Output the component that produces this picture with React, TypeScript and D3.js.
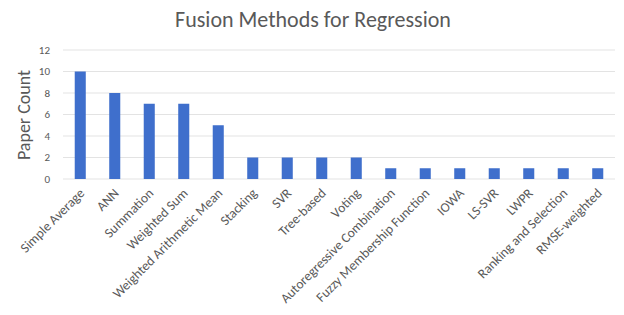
import React, { useRef, useEffect } from 'react';
import { select, scaleBand, scaleLinear } from 'd3';

const width = 624;
const height = 315;

const methods = [
  'Simple Average', 'ANN', 'Summation', 'Weighted Sum', 'Weighted Arithmetic Mean',
  'Stacking', 'SVR', 'Tree-based', 'Voting', 'Autoregressive Combination',
  'Fuzzy Membership Function', 'IOWA', 'LS-SVR', 'LWPR', 'Ranking and Selection', 'RMSE-weighted',
];
const paperCounts = [10, 8, 7, 7, 5, 2, 2, 2, 2, 1, 1, 1, 1, 1, 1, 1];
const yTicks = [0, 2, 4, 6, 8, 10, 12];

const font = "Calibri, Carlito, Lato, sans-serif";
const textColor = '#595959';

export default function App() {
  const svgRef = useRef<SVGSVGElement>(null);

  useEffect(() => {
    const svg = select(svgRef.current);
    svg.selectAll('*').remove();

    const x = scaleBand<string>()
      .domain(methods)
      .range([63, 615])
      .paddingInner(0.68)
      .paddingOuter(0.34);

    const y = scaleLinear().domain([0, 12]).range([179, 50]);

    // gridlines
    svg.append('g')
      .selectAll('line')
      .data(yTicks)
      .enter()
      .append('line')
      .attr('x1', 63)
      .attr('x2', 615)
      .attr('y1', d => y(d))
      .attr('y2', d => y(d))
      .attr('stroke', '#e3e3e3')
      .attr('stroke-width', 1);

    svg.append('g')
      .selectAll('text')
      .data(yTicks)
      .enter()
      .append('text')
      .attr('x', 50)
      .attr('y', d => y(d))
      .attr('dy', '0.35em')
      .attr('text-anchor', 'end')
      .attr('font-size', 11)
      .attr('font-family', font)
      .attr('fill', textColor)
      .text(d => d);

    svg.append('g')
      .selectAll('rect')
      .data(paperCounts)
      .enter()
      .append('rect')
      .attr('x', (d, i) => x(methods[i]) as number)
      .attr('width', x.bandwidth())
      .attr('y', d => y(d))
      .attr('height', d => y(0) - y(d))
      .attr('fill', '#3f6fcc');

    svg.append('g')
      .selectAll('text')
      .data(methods)
      .enter()
      .append('text')
      .attr('transform', d => `translate(${(x(d) as number) + x.bandwidth() / 2 + 5},${194}) rotate(-45)`)
      .attr('text-anchor', 'end')
      .attr('font-size', 13.5)
      .attr('font-family', font)
      .attr('fill', textColor)
      .text(d => d);

    svg.append('text')
      .attr('transform', `translate(30,${115}) rotate(-90)`)
      .attr('text-anchor', 'middle')
      .attr('font-size', 18)
      .attr('font-family', font)
      .attr('fill', textColor)
      .text('Paper Count');

    svg.append('text')
      .attr('x', 313)
      .attr('y', 27)
      .attr('text-anchor', 'middle')
      .attr('font-size', 22)
      .attr('font-family', font)
      .attr('fill', textColor)
      .text('Fusion Methods for Regression');
  }, []);

  return (
    <svg
      width={width}
      height={height}
      ref={svgRef}
      style={{ position: 'absolute', left: 0, top: 0, background: '#fff' }}
    />
  );
}
